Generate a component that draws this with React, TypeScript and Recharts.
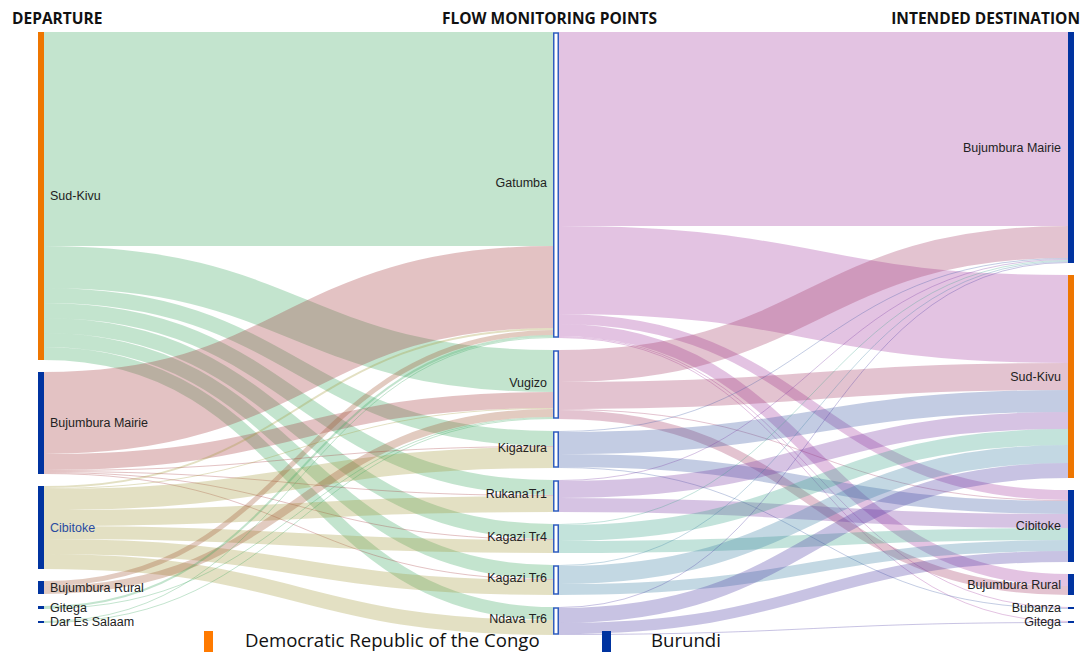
import { Sankey } from "recharts";

// departure areas (left column)
const departures = ["Sud-Kivu", "Bujumbura Mairie", "Cibitoke", "Bujumbura Rural", "Gitega", "Dar Es Salaam"];
const departureCountry = ["DRC", "BDI", "BDI", "BDI", "BDI", "BDI"];

// flow monitoring points (middle column)
const monitoringPoints = ["Gatumba", "Vugizo", "Kigazura", "RukanaTr1", "Kagazi Tr4", "Kagazi Tr6", "Ndava Tr6"];

// intended destinations (right column)
const destinations = ["Bujumbura Mairie", "Sud-Kivu", "Cibitoke", "Bujumbura Rural", "Bubanza", "Gitega"];
const destinationCountry = ["BDI", "DRC", "BDI", "BDI", "BDI", "BDI"];

// rows: departure, columns: monitoring point
const departureFlows = [
  [214, 42, 15, 15, 15, 14, 13],
  [82, 16, 1, 1, 1, 1, 0],
  [2, 1, 21, 16, 13, 15, 15],
  [5, 8, 0, 0, 0, 0, 0],
  [2, 1, 0, 0, 0, 0, 0],
  [1, 1, 0, 0, 0, 0, 0],
];

// rows: monitoring point, columns: destination
const destinationFlows = [
  [194, 88, 10, 12, 1, 1],
  [32, 27, 1, 9, 0, 0],
  [1, 22, 13, 0, 1, 0],
  [1, 17, 14, 0, 0, 0],
  [1, 16, 12, 0, 0, 0],
  [1, 18, 11, 0, 0, 0],
  [1, 15, 11, 0, 0, 1],
];

const legendItems = [
  { label: "Democratic Republic of the Congo", country: "DRC" },
  { label: "Burundi", country: "BDI" },
];

const COUNTRY_COLORS: Record<string, string> = { DRC: "#EE7600", BDI: "#0033A0" };
const LEGEND_COLORS: Record<string, string> = { DRC: "#FF7A00", BDI: "#0033A0" };
const DEPARTURE_LINK_COLORS = ["#37A55C", "#A23437", "#A29837", "#A0522D", "#37A55C", "#37A55C"];
const POINT_LINK_COLORS = ["#A2379E", "#A23762", "#3755A2", "#7637A2", "#37A287", "#377DA2", "#4837A2"];

const nodes = [
  ...departures.map((name, i) => ({ name, column: 0, key: i })),
  ...monitoringPoints.map((name, i) => ({ name, column: 1, key: i })),
  ...destinations.map((name, i) => ({ name, column: 2, key: i })),
];

const links: { source: number; target: number; value: number }[] = [];
departureFlows.forEach((row, i) =>
  row.forEach((value, j) => {
    if (value > 0) links.push({ source: i, target: departures.length + j, value });
  })
);
destinationFlows.forEach((row, i) =>
  row.forEach((value, j) => {
    if (value > 0)
      links.push({ source: departures.length + i, target: departures.length + monitoringPoints.length + j, value });
  })
);

const labelFont = { fontFamily: "'Liberation Sans', Arial, sans-serif", fontSize: 12.5 };

function FlowNode(props: any) {
  const { x, y, width, height, payload } = props;
  const cy = y + height / 2;
  if (payload.column === 1) {
    // monitoring points: outlined boxes, drawn slightly inset
    return (
      <g>
        <rect x={x + 0.75} y={y + 1} width={width - 1.5} height={height - 2} fill="#FFFFFF" stroke="#2F5DBF" strokeWidth={1.5} />
        <text x={x - 6} y={cy - 2} textAnchor="end" dominantBaseline="central" fill="#222" {...labelFont}>
          {payload.name}
        </text>
      </g>
    );
  }
  const left = payload.column === 0;
  const country = left ? departureCountry[payload.key] : destinationCountry[payload.key];
  const textColor = left && payload.name === "Cibitoke" ? "#2A4BA0" : "#222";
  return (
    <g>
      <rect x={x} y={y} width={width} height={Math.max(height, 2)} fill={COUNTRY_COLORS[country]} />
      <text
        x={left ? x + width + 6 : x - 7}
        y={cy}
        textAnchor={left ? "start" : "end"}
        dominantBaseline="central"
        fill={textColor}
        {...labelFont}
      >
        {payload.name}
      </text>
    </g>
  );
}

function FlowLink(props: any) {
  const { sourceX, sourceY, sourceControlX, targetX, targetY, targetControlX, linkWidth, payload } = props;
  const src = payload.source;
  const color = src.column === 0 ? DEPARTURE_LINK_COLORS[src.key] : POINT_LINK_COLORS[src.key];
  return (
    <path
      d={`M${sourceX},${sourceY} C${sourceControlX},${sourceY} ${targetControlX},${targetY} ${targetX},${targetY}`}
      fill="none"
      stroke={color}
      strokeOpacity={0.3}
      strokeWidth={Math.max(1, linkWidth)}
    />
  );
}

const headerFont = { fontFamily: "'Open Sans', sans-serif", fontSize: 15.5, fontWeight: 700, fill: "#111" };

export default function App() {
  return (
    <div style={{ position: "absolute", left: 0, top: 0, width: 1080, height: 652, background: "#fff", overflow: "hidden" }}>
      <Sankey
        width={1080}
        height={652}
        data={{ nodes, links }}
        margin={{ top: 32, left: 38, right: 6, bottom: 17 }}
        nodeWidth={6}
        nodePadding={12}
        iterations={0}
        linkCurvature={0.5}
        node={FlowNode}
        link={FlowLink}
      />
      <svg width={1080} height={652} style={{ position: "absolute", left: 0, top: 0, pointerEvents: "none" }}>
        <text x={12} y={24} {...headerFont}>DEPARTURE</text>
        <text x={549.5} y={24} textAnchor="middle" {...headerFont}>FLOW MONITORING POINTS</text>
        <text x={1080} y={24} textAnchor="end" {...headerFont}>INTENDED DESTINATION</text>
        {legendItems.map((item, i) => {
          const x0 = i === 0 ? 204 : 602;
          return (
            <g key={item.label}>
              <rect x={x0} y={631} width={9} height={24} fill={LEGEND_COLORS[item.country]} />
              <text x={x0 + (i === 0 ? 41 : 49)} y={647} fontFamily="'Open Sans', sans-serif" fontSize={18.6} fill="#111">
                {item.label}
              </text>
            </g>
          );
        })}
      </svg>
    </div>
  );
}
